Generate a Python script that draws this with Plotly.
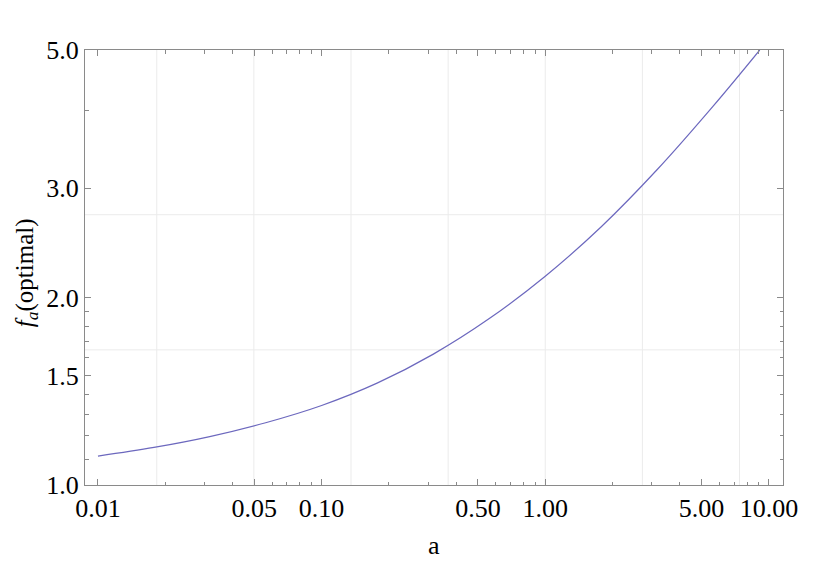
import math
import plotly.graph_objects as go

# curve
a_vals = [0.01, 0.0178, 0.0316, 0.0562, 0.1, 0.178, 0.316, 0.562,
          1.0, 1.78, 3.16, 5.62, 9.1]
f_vals = [1.113, 1.149, 1.196, 1.259, 1.342, 1.459, 1.623, 1.851,
          2.165, 2.600, 3.210, 4.059, 5.0]

# axes
x_ticks = [0.01, 0.05, 0.1, 0.5, 1, 5, 10]
x_ticktext = ["0.01", "0.05", "0.10", "0.50", "1.00", "5.00", "10.00"]
x_minor = [0.02, 0.03, 0.04, 0.06, 0.07, 0.08, 0.09,
           0.2, 0.3, 0.4, 0.6, 0.7, 0.8, 0.9,
           2, 3, 4, 6, 7, 8, 9]
y_ticks = [1.0, 1.5, 2.0, 3.0, 5.0]
y_ticktext = ["1.0", "1.5", "2.0", "3.0", "5.0"]
y_minor = [1.1, 1.2, 1.3, 1.4, 1.6, 1.7, 1.8, 1.9, 4.0]

# grid lines (Mathematica puts them at powers of e)
x_grid = [math.exp(n) for n in range(-4, 3)]
y_grid = [math.exp(0.5), math.exp(1.0)]

x_range = [-2.058, 1.063]
y_range = [0.0, math.log10(5)]

grid_color = "#ebebeb"
frame_color = "#8a8a8a"
curve_color = "rgb(108,104,190)"
font_family = "Liberation Serif"

fig = go.Figure()

gx, gy = [], []
for v in x_grid:
    gx += [v, v, None]
    gy += [0.9, 5.5, None]
fig.add_trace(go.Scatter(x=gx, y=gy, mode="lines", line=dict(color=grid_color, width=1),
                         hoverinfo="skip", showlegend=False))
hx, hy = [], []
for v in y_grid:
    hx += [0.005, 20, None]
    hy += [v, v, None]
fig.add_trace(go.Scatter(x=hx, y=hy, mode="lines", line=dict(color=grid_color, width=1),
                         hoverinfo="skip", showlegend=False))

fig.add_trace(go.Scatter(x=a_vals, y=f_vals, mode="lines",
                         line=dict(color=curve_color, width=1.2, shape="spline"),
                         showlegend=False))

axis_common = dict(
    type="log", showgrid=False, zeroline=False,
    showline=True, linecolor=frame_color, linewidth=1, mirror="ticks",
    ticks="inside", ticklen=6, tickcolor=frame_color, tickwidth=1,
    tickfont=dict(family=font_family, size=26, color="black"),
)

fig.update_xaxes(
    **axis_common, range=x_range, tickvals=x_ticks, ticktext=x_ticktext,
    minor=dict(tickvals=x_minor, ticks="inside", ticklen=3.5, tickcolor=frame_color, showgrid=False),
)
fig.update_yaxes(
    **axis_common, range=y_range, tickvals=y_ticks, ticktext=y_ticktext,
    minor=dict(tickvals=y_minor, ticks="inside", ticklen=3.5, tickcolor=frame_color, showgrid=False),
)

fig.add_annotation(text="a", xref="paper", yref="paper", x=0.5, y=-0.138,
                   showarrow=False, xanchor="center", yanchor="middle",
                   font=dict(family=font_family, size=26, color="black"))
fig.add_annotation(text="<i>f</i><sub><i>a</i></sub>(optimal)", xref="paper", yref="paper",
                   x=-0.0845, y=0.487, textangle=-90, showarrow=False,
                   xanchor="center", yanchor="middle",
                   font=dict(family=font_family, size=25, color="black"))

# page body has an 8px margin, so the figure is a bit smaller than the window
fig.update_layout(
    width=826, height=562,
    margin=dict(l=77, r=51, t=42, b=85),
    plot_bgcolor="white", paper_bgcolor="white",
    showlegend=False,
)

fig.write_html("out.html")
